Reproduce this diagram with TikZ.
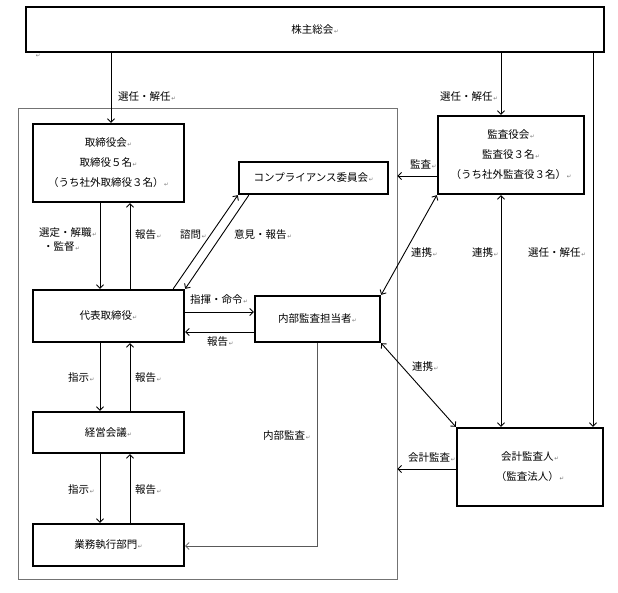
\documentclass[tikz,border=0pt]{standalone}
\usepackage{fontspec}
\setmainfont{Noto Sans CJK JP}
\newfontfamily\symfont{DejaVu Sans}
\usetikzlibrary{arrows.meta,calc}
\newcommand\rmk{\hspace{0.6pt}{\symfont\fontsize{5.5}{6}\selectfont\color{black!55}↵}}
\newcommand\jfs{\fontsize{10.5}{20}\selectfont}
\tikzset{
  box/.style={draw, line width=2.4pt, inner sep=0pt, align=center, font=\jfs},
  lab/.style={anchor=west, inner sep=0pt, font=\jfs},
  arr/.style={line width=0.9pt, -{Straight Barb[length=3.5pt,width=7pt]}},
  darr/.style={line width=0.9pt, {Straight Barb[length=3.5pt,width=7pt]}-{Straight Barb[length=3.5pt,width=7pt]}},
  plain/.style={line width=0.9pt},
}
\begin{document}
\begin{tikzpicture}[x=1pt,y=-1pt]
\useasboundingbox[fill=white] (0,0) rectangle (618,593);
% container
\node[draw=black!55, line width=0.8pt, minimum width=379pt, minimum height=471pt, inner sep=0pt] (cont) at (207.5,343.5) {};
% boxes
\node[box, minimum width=578pt, minimum height=45pt] (kab) at (315,29.5) {株主総会\rmk};
\node[box, minimum width=151pt, minimum height=78pt] (tori) at (108.5,163) {取締役会\rmk\\取締役５名\rmk\\（うち社外取締役３名）\rmk};
\node[box, minimum width=149pt, minimum height=32pt] (comp) at (313.5,178) {コンプライアンス委員会\rmk};
\node[box, minimum width=146pt, minimum height=78pt] (kansa) at (511,155) {監査役会\rmk\\監査役３名\rmk\\（うち社外監査役３名）\rmk};
\node[box, minimum width=151pt, minimum height=52pt] (daihyo) at (108.5,316) {代表取締役\rmk};
\node[box, minimum width=125pt, minimum height=46pt] (naibu) at (317.5,319) {内部監査担当者\rmk};
\node[box, minimum width=151pt, minimum height=41pt] (keiei) at (108.5,432.5) {経営会議\rmk};
\node[box, minimum width=151pt, minimum height=42pt] (gyomu) at (108.5,545) {業務執行部門\rmk};
\node[box, minimum width=146pt, minimum height=78pt] (kaikei) at (530,467) {会計監査人\rmk\\（監査法人）\rmk};
% stray paragraph mark
\node[inner sep=0pt] (pm) at (38,55.5) {\rmk};
% helper coordinates
\coordinate (xa) at (111,0);
\coordinate (xb) at (501,0);
\coordinate (xc) at (593,0);
\coordinate (xd) at (100,0);
\coordinate (xu) at (130,0);
\coordinate (xi) at (317,0);
\coordinate (ya) at (0,312);
\coordinate (yb) at (0,332);
\coordinate (yc) at (0,176);
\coordinate (yd) at (0,469);
\coordinate (yi) at (0,546);
% connectors
\draw[arr] (kab.south -| xa) -- (tori.north -| xa);
\draw[arr] (kab.south -| xb) -- (kansa.north -| xb);
\draw[arr] (kab.south -| xc) -- (kaikei.north -| xc);
\draw[arr] (tori.south -| xd) -- (daihyo.north -| xd);
\draw[arr] (daihyo.north -| xu) -- (tori.south -| xu);
\draw[arr] (daihyo.south -| xd) -- (keiei.north -| xd);
\draw[arr] (keiei.north -| xu) -- (daihyo.south -| xu);
\draw[arr] (keiei.south -| xd) -- (gyomu.north -| xd);
\draw[arr] (gyomu.north -| xu) -- (keiei.south -| xu);
\draw[arr] ([xshift=-12pt]daihyo.north east) -- (comp.south west);
\draw[arr] ([xshift=11pt]comp.south west) -- (daihyo.north east);
\draw[arr] (daihyo.east |- ya) -- (naibu.west |- ya);
\draw[arr] (naibu.west |- yb) -- (daihyo.east |- yb);
\draw[line width=0.7pt, black!65, -{Straight Barb[length=3.5pt,width=7pt]}] (naibu.south -| xi) -- (xi |- yi) -- (gyomu.east |- yi);
\draw[arr] (kansa.west |- yc) -- (cont.east |- yc);
\draw[darr] (kansa.south west) -- (naibu.north east);
\draw[darr] (kansa.south -| xb) -- (kaikei.north -| xb);
\draw[darr] (naibu.south east) -- (kaikei.north west);
\draw[arr] (kaikei.west |- yd) -- (cont.east |- yd);
% labels
\node[lab] (l1) at (118,97) {選任・解任\rmk};
\node[lab] (l2) at (440,97) {選任・解任\rmk};
\node[lab] (l3) at (528,253) {選任・解任\rmk};
\node[lab] (l4) at (410,164) {監査\rmk};
\node[lab] (l5) at (411,253) {連携\rmk};
\node[lab] (l6) at (472,253) {連携\rmk};
\node[lab] (l7) at (412,367) {連携\rmk};
\node[lab] (l8) at (408,458) {会計監査\rmk};
\node[lab] (l9) at (39,233) {選定・解職\rmk};
\node[lab] (l10) at (43,247) {・監督\rmk};
\node[lab] (l11) at (135,235) {報告\rmk};
\node[lab] (l12) at (180,235) {諮問\rmk};
\node[lab] (l13) at (234,235) {意見・報告\rmk};
\node[lab] (l14) at (190,300) {指揮・命令\rmk};
\node[lab] (l15) at (207,342) {報告\rmk};
\node[lab] (l16) at (68,378) {指示\rmk};
\node[lab] (l17) at (135,378) {報告\rmk};
\node[lab] (l18) at (263,436) {内部監査\rmk};
\node[lab] (l19) at (68,490) {指示\rmk};
\node[lab] (l20) at (135,490) {報告\rmk};
\end{tikzpicture}
\end{document}
